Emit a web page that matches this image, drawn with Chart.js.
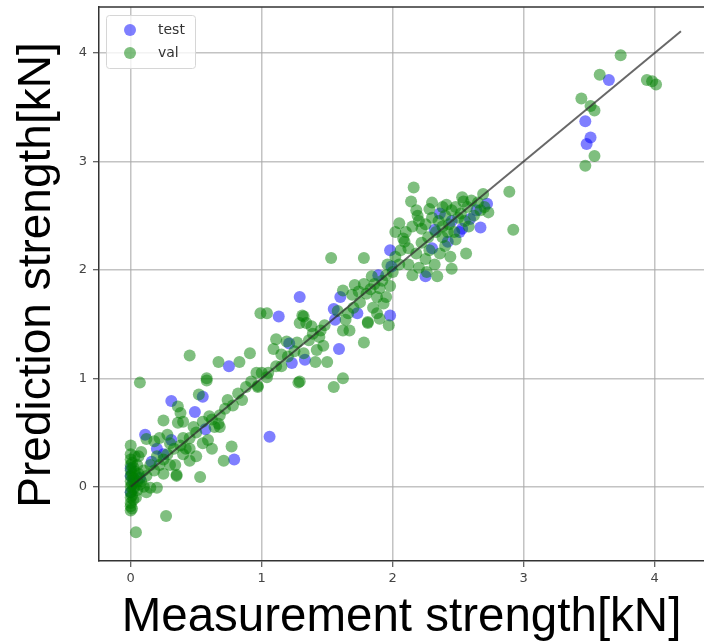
<!DOCTYPE html>
<html>
<head>
<meta charset="utf-8">
<script src="https://cdn.jsdelivr.net/npm/chart.js@4/dist/chart.umd.min.js"></script>
<style>
  body { margin: 0; background: #fff; }
</style>
</head>
<body>
<canvas id="scatterChart" width="704" height="644"></canvas>
<script>
// measured vs predicted strength [kN]
const testPoints = [
  [3.65, 3.75], [3.47, 3.37], [3.51, 3.22], [3.48, 3.16],
  [2.72, 2.61], [2.64, 2.55], [2.59, 2.47], [2.67, 2.39], [2.53, 2.38], [2.51, 2.35],
  [2.42, 2.26], [2.36, 2.52], [2.32, 2.37], [2.25, 1.94], [1.98, 2.18], [1.99, 2.03],
  [2.45, 2.45], [2.30, 2.20],
  [1.89, 1.95], [1.98, 1.58], [1.60, 1.75], [1.55, 1.64], [1.73, 1.60], [1.56, 1.54],
  [1.59, 1.27], [1.29, 1.75], [1.33, 1.17], [1.13, 1.57], [1.21, 1.32], [1.23, 1.14],
  [0.75, 1.11], [1.06, 0.46], [0.79, 0.25], [0.31, 0.79], [0.55, 0.83], [0.49, 0.69],
  [0.57, 0.53], [0.31, 0.43], [0.20, 0.35], [0.16, 0.23], [0.11, 0.48], [0.00, 0.17],
  [0.07, 0.08], [0.00, 0.10], [0.02, 0.05], [0.25, 0.30], [0.00, -0.05]
];

const valPoints = [
  // top group
  [3.74, 3.98], [3.58, 3.80], [3.94, 3.75], [3.98, 3.74], [4.01, 3.71], [3.44, 3.58],
  [3.51, 3.51], [3.54, 3.47], [3.54, 3.05], [3.47, 2.96],
  // 2 - 3
  [2.16, 2.76], [2.14, 2.63], [2.18, 2.55], [2.19, 2.50], [2.28, 2.56], [2.41, 2.60],
  [2.48, 2.58], [2.53, 2.67], [2.54, 2.63], [2.60, 2.64], [2.69, 2.70], [2.89, 2.72],
  [2.92, 2.37], [2.73, 2.53], [2.67, 2.55], [2.56, 2.15], [2.45, 2.01], [2.34, 1.94],
  [2.05, 2.43], [2.08, 2.29], [2.09, 2.26], [2.10, 2.35], [2.15, 2.40], [2.20, 2.45],
  [2.22, 2.38], [2.25, 2.42], [2.27, 2.30], [2.30, 2.48], [2.33, 2.35], [2.35, 2.45],
  [2.38, 2.40], [2.40, 2.50], [2.43, 2.42], [2.45, 2.55], [2.47, 2.35], [2.50, 2.48],
  [2.52, 2.52], [2.55, 2.45], [2.57, 2.58], [2.62, 2.50], [2.65, 2.62], [2.70, 2.58],
  [2.12, 2.20], [2.18, 2.15], [2.22, 2.25], [2.25, 2.10], [2.28, 2.18], [2.32, 2.05],
  [2.36, 2.15], [2.40, 2.22], [2.44, 2.12], [2.48, 2.28], [2.38, 2.30], [2.05, 2.05],
  [2.02, 2.12], [2.06, 2.18], [2.00, 1.98], [2.12, 2.05], [2.15, 1.95], [2.20, 2.02],
  [2.26, 1.98], [2.02, 2.35], [2.38, 2.58], [2.30, 2.62], [2.58, 2.40], [2.42, 2.35],
  // 1.5 - 2
  [1.53, 2.11], [1.78, 2.11], [1.84, 1.94], [1.86, 1.87], [1.90, 1.83], [1.95, 1.75],
  [1.88, 1.75], [1.93, 1.69], [1.97, 1.49], [1.81, 1.51], [1.88, 1.60], [1.78, 1.33],
  [1.71, 1.86], [1.62, 1.81], [1.69, 1.77], [1.78, 1.87], [1.64, 1.54], [1.67, 1.44],
  [1.62, 1.44], [1.81, 1.52], [1.62, 1.00], [1.55, 0.92], [1.75, 1.70], [1.80, 1.78],
  [1.92, 1.90], [1.95, 1.95], [1.98, 1.85], [1.70, 1.65], [1.66, 1.60], [1.85, 1.65],
  [1.90, 1.55], [1.58, 1.62], [1.74, 1.80], [1.96, 2.05], [1.83, 1.82],
  // 1 - 1.5
  [1.32, 1.57], [1.34, 1.51], [1.29, 1.51], [1.39, 1.41], [1.45, 1.44], [1.48, 1.49],
  [1.42, 1.26], [1.41, 1.15], [1.50, 1.15], [1.29, 0.97], [0.99, 1.60], [1.04, 1.60],
  [1.31, 1.58], [1.11, 1.36], [1.19, 1.34], [1.27, 1.33], [1.09, 1.27], [1.32, 1.23],
  [0.96, 1.05], [0.97, 0.92], [1.04, 1.01], [1.11, 1.11], [1.15, 1.11], [1.28, 0.96],
  [1.25, 1.25], [1.36, 1.35], [1.44, 1.38], [1.20, 1.20], [1.15, 1.22], [1.38, 1.48],
  [1.47, 1.30], [1.05, 1.05], [1.00, 1.05],
  // 0.5 - 1
  [0.45, 1.21], [0.67, 1.15], [0.83, 1.15], [0.91, 1.23], [0.58, 1.00], [0.07, 0.96],
  [0.58, 0.98], [0.74, 0.80], [0.82, 0.86], [0.97, 0.93], [0.68, 0.66], [0.67, 0.58],
  [0.64, 0.55], [0.68, 0.55], [0.59, 0.43], [0.62, 0.35], [0.77, 0.37], [0.71, 0.24],
  [0.50, 0.28], [0.45, 0.24], [0.53, 0.09], [0.52, 0.85], [0.36, 0.74], [0.38, 0.68],
  [0.40, 0.60], [0.36, 0.59], [0.25, 0.61], [0.55, 0.60], [0.60, 0.65], [0.72, 0.72],
  [0.78, 0.75], [0.85, 0.80], [0.50, 0.50], [0.45, 0.45], [0.48, 0.55], [0.55, 0.40],
  [0.62, 0.62], [0.88, 0.92], [0.92, 0.97],
  // 0 - 0.5
  [0.35, 0.10], [0.27, -0.27], [0.04, -0.42], [0.00, -0.22], [0.00, 0.38], [0.20, -0.01],
  [0.15, -0.01], [0.34, 0.20], [0.35, 0.11], [0.12, 0.44], [0.18, 0.42], [0.22, 0.45],
  [0.28, 0.48], [0.30, 0.40], [0.33, 0.35], [0.38, 0.38], [0.40, 0.45], [0.42, 0.35],
  [0.25, 0.25], [0.28, 0.30], [0.22, 0.20], [0.18, 0.15], [0.15, 0.20], [0.12, 0.10],
  [0.10, 0.15], [0.08, 0.05], [0.10, 0.00], [0.12, -0.05], [0.05, 0.20], [0.06, 0.28],
  [0.08, 0.32], [0.20, 0.28], [0.30, 0.20], [0.25, 0.12], [0.45, 0.35], [0.40, 0.30],
  [0.00, 0.30], [0.00, 0.25], [0.00, 0.20], [0.00, 0.15], [0.00, 0.10], [0.00, 0.05],
  [0.00, 0.00], [0.00, -0.05], [0.00, -0.10], [0.00, -0.15], [0.01, 0.22], [0.01, 0.12],
  [0.01, 0.02], [0.01, -0.08], [0.02, 0.18], [0.02, 0.08], [0.02, -0.02], [0.02, -0.12],
  [0.03, 0.28], [0.03, 0.14], [0.03, 0.00], [0.04, 0.10], [0.05, -0.03], [0.05, 0.05],
  [0.04, -0.10], [0.06, 0.12], [0.07, 0.02], [0.00, -0.18], [0.01, -0.20]
];

const identityLine = [0, 4.2];
const xTicks = [0, 1, 2, 3, 4];
const yTicks = [0, 1, 2, 3, 4];
const yTitle = "Prediction strength[kN]";

const toXY = (arr) => arr.map((p) => ({ x: p[0], y: p[1] }));

// top frame edge, y title (sits a bit above centre in the original) and legend box
const framePlugin = {
  id: "frameAndLegend",
  afterDraw(chart) {
    const c = chart.ctx;
    const a = chart.chartArea;
    c.save();
    c.strokeStyle = "#333";
    c.lineWidth = 1.5;
    c.beginPath();
    c.moveTo(a.left, a.top);
    c.lineTo(a.right, a.top);
    c.stroke();

    c.save();
    c.translate(37, (a.top + a.bottom) / 2 - 9);
    c.rotate(-Math.PI / 2);
    c.fillStyle = "#000";
    c.font = "46px 'Liberation Sans'";
    c.textAlign = "center";
    c.textBaseline = "middle";
    c.fillText(yTitle, 0, 0);
    c.restore();

    // legend
    const bx = 106, by = 15, bw = 89, bh = 53;
    c.fillStyle = "rgba(255,255,255,0.8)";
    c.strokeStyle = "#d6d6d6";
    c.lineWidth = 1;
    c.beginPath();
    c.roundRect(bx + 0.5, by + 0.5, bw, bh, 3);
    c.fill();
    c.stroke();
    const items = chart.data.datasets.filter((d) => d.showInLegend);
    items.forEach((d, i) => {
      const yy = 30 + i * 23;
      c.fillStyle = d.backgroundColor;
      c.beginPath();
      c.arc(130, yy, 6, 0, Math.PI * 2);
      c.fill();
      c.fillStyle = "#333";
      c.font = "14px 'DejaVu Sans'";
      c.textAlign = "left";
      c.textBaseline = "middle";
      c.fillText(d.label, 158, yy);
    });
    c.restore();
  },
};

const ctx = document.getElementById("scatterChart").getContext("2d");

new Chart(ctx, {
  type: "scatter",
  data: {
    datasets: [
      {
        type: "line",
        label: "y=x",
        data: identityLine.map((v) => ({ x: v, y: v })),
        borderColor: "rgba(40,40,40,0.7)",
        borderWidth: 2,
        pointRadius: 0,
        order: 0,
      },
      {
        label: "test",
        data: toXY(testPoints),
        backgroundColor: "rgba(0,0,255,0.5)",
        pointRadius: 6,
        borderWidth: 0,
        order: 2,
        showInLegend: true,
      },
      {
        label: "val",
        data: toXY(valPoints),
        backgroundColor: "rgba(0,128,0,0.5)",
        pointRadius: 6,
        borderWidth: 0,
        order: 1,
        showInLegend: true,
      },
    ],
  },
  options: {
    responsive: false,
    animation: false,
    layout: { autoPadding: false, padding: { top: 7, left: 0, right: 0, bottom: 0 } },
    plugins: {
      legend: { display: false },
      tooltip: { enabled: false },
    },
    scales: {
      x: {
        type: "linear",
        min: -0.242,
        max: 4.376,
        afterFit: (s) => { s.height = 83; s.paddingLeft = 0; s.paddingRight = 0; },
        afterBuildTicks: (s) => { s.ticks = xTicks.map((v) => ({ value: v })); },
        ticks: {
          font: { family: "DejaVu Sans", size: 13 },
          color: "#444",
          padding: 4,
        },
        grid: {
          color: "rgba(170,170,170,0.7)",
          lineWidth: 1.5,
          tickLength: 6,
          tickColor: "#333",
          tickWidth: 1,
        },
        border: { color: "#333", width: 1.5 },
        title: {
          display: true,
          text: "Measurement strength[kN]",
          font: { family: "Liberation Sans", size: 47.5, lineHeight: 1 },
          color: "#000",
          padding: { top: 0, bottom: 2 },
        },
      },
      y: {
        type: "linear",
        min: -0.685,
        max: 4.424,
        afterFit: (s) => { s.width = 99; s.paddingTop = 0; s.paddingBottom = 0; },
        afterBuildTicks: (s) => { s.ticks = yTicks.map((v) => ({ value: v })); },
        ticks: {
          font: { family: "DejaVu Sans", size: 13 },
          color: "#444",
          padding: 6,
        },
        grid: {
          color: "rgba(170,170,170,0.7)",
          lineWidth: 1.5,
          tickLength: 6,
          tickColor: "#333",
          tickWidth: 1,
        },
        border: { color: "#333", width: 1.5 },
        title: { display: false },
      },
    },
  },
  plugins: [framePlugin],
});
</script>
</body>
</html>
